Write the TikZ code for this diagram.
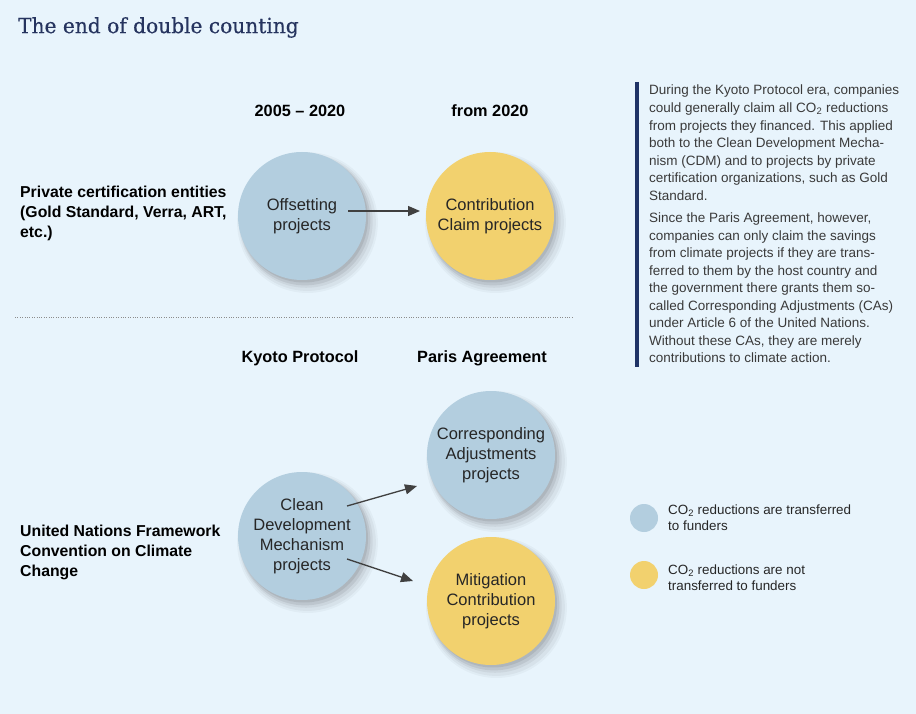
\documentclass[tikz,border=0pt]{standalone}
\usepackage{fontspec}
\setmainfont{Liberation Sans}
\newfontfamily\titlefont[FakeBold=0.4]{DejaVu Serif}
\usetikzlibrary{arrows.meta,shadows}
\definecolor{bg}{HTML}{E8F4FC}
\definecolor{titlecol}{HTML}{26345F}
\definecolor{barcol}{HTML}{1F3366}
\definecolor{bluec}{HTML}{B3CEDF}
\definecolor{yellowc}{HTML}{F2D16E}
\definecolor{bodytxt}{HTML}{3A3A3A}
\newcommand{\COtwo}{CO\textsubscript{2}}
\tikzset{
  bubble/.style={circle, minimum size=128pt, inner sep=0pt, align=center,
    text=black!85, font=\fontsize{16.5}{20}\selectfont,
    drop shadow={shadow xshift=5pt, shadow yshift=-6pt, shadow scale=1.10, opacity=0.03, fill=black},
    drop shadow={shadow xshift=5pt, shadow yshift=-6pt, shadow scale=1.07, opacity=0.04, fill=black},
    drop shadow={shadow xshift=4pt, shadow yshift=-5pt, shadow scale=1.04, opacity=0.05, fill=black},
    drop shadow={shadow xshift=3pt, shadow yshift=-4pt, shadow scale=1.02, opacity=0.07, fill=black},
    drop shadow={shadow xshift=2pt, shadow yshift=-2.5pt, opacity=0.08, fill=black}},
  bluebub/.style={bubble, fill=bluec},
  yellowbub/.style={bubble, fill=yellowc},
  head/.style={font=\bfseries\fontsize{16.3}{20}\selectfont, text=black},
  sidelabel/.style={anchor=west, align=left, font=\bfseries\fontsize{15.8}{20}\selectfont, text=black, inner sep=0pt},
  body/.style={anchor=north west, align=left, inner sep=0pt, text=bodytxt, font=\fontsize{13.5}{17.55}\selectfont},
  legtext/.style={anchor=west, align=left, inner sep=0pt, text=black!85, font=\fontsize{13.4}{16}\selectfont},
  conn/.style={draw=black!75, line width=1.3pt, -{Triangle[length=12pt,width=10pt]}},
  legdot/.style={circle, minimum size=28pt, inner sep=0pt},
}
\begin{document}
\begin{tikzpicture}[x=1pt,y=-1pt]
\fill[bg] (0,0) rectangle (916,714);
\useasboundingbox (0,0) rectangle (916,714);

\node[anchor=west, text=titlecol, font=\titlefont\fontsize{21}{24}\selectfont, inner sep=0pt, xscale=0.96] (title) at (18,27.5) {The end of double counting};

% headings
\node[head] (h1) at (300,111) {2005 – 2020};
\node[head] (h2) at (490,111) {from 2020};
\node[head] (h3) at (300,358) {Kyoto Protocol};
\node[head] (h4) at (482,358) {Paris Agreement};

% side labels
\node[sidelabel] (priv) at (20,213) {Private certification entities\\(Gold Standard, Verra, ART,\\etc.)};
\node[sidelabel] (unfccc) at (20,552) {United Nations Framework\\Convention on Climate\\Change};

% circles
\node[bluebub] (off) at (302,216) {Offsetting\\projects};
\node[yellowbub] (ccp) at (490,216) {Contribution\\Claim projects};
\node[bluebub] (cdm) at (302,536) {Clean\\Development\\Mechanism\\projects};
\node[bluebub] (cap) at (491,455) {Corresponding\\Adjustments\\projects};
\node[yellowbub] (mcp) at (491,601) {Mitigation\\Contribution\\projects};

% connector endpoints
\coordinate (a1s) at (348,211);
\coordinate (a1e) at (420,211);
\coordinate (a2s) at (347,506);
\coordinate (a2e) at (417,486);
\coordinate (a3s) at (347,559);
\coordinate (a3e) at (413,581);
\draw[conn] (a1s) -- (a1e);
\draw[conn] (a2s) -- (a2e);
\draw[conn] (a3s) -- (a3e);

% dotted separator
\coordinate (sepL) at (15,317);
\coordinate (sepR) at (572,317);
\draw[black!45, line width=0.8pt, dash pattern=on 0.8pt off 1.6pt] (sepL) -- (sepR);

% right text
\coordinate (barT) at (637,82);
\coordinate (barB) at (637,367);
\draw[barcol, line width=3.5pt] (barT) -- (barB);
\node[body] (p1) at (649,85) {During the Kyoto Protocol era, companies\\could generally claim all \COtwo{} reductions\\from projects they financed. This applied\\both to the Clean Development Mecha-\\nism (CDM) and to projects by private\\certification organizations, such as Gold\\Standard.};
\node[body] (p2) at (649,212.5) {Since the Paris Agreement, however,\\companies can only claim the savings\\from climate projects if they are trans-\\ferred to them by the host country and\\the government there grants them so-\\called Corresponding Adjustments (CAs)\\under Article 6 of the United Nations.\\Without these CAs, they are merely\\contributions to climate action.};

% legend
\node[legdot, fill=bluec] (l1) at (644,518) {};
\node[legdot, fill=yellowc] (l2) at (644,575) {};
\node[legtext] (t1) at (668,518) {\COtwo{} reductions are transferred\\to funders};
\node[legtext] (t2) at (668,578) {\COtwo{} reductions are not\\transferred to funders};
\end{tikzpicture}
\end{document}
